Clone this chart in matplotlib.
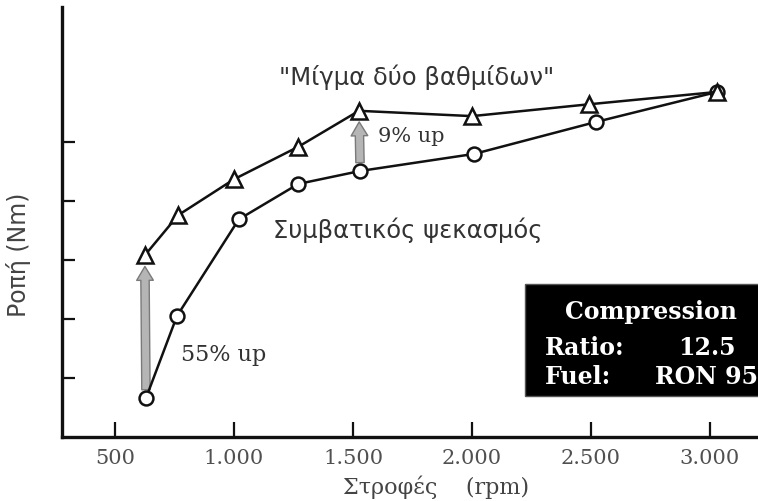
import matplotlib
matplotlib.use("Agg")
import matplotlib.pyplot as plt
from matplotlib.patches import Rectangle

# ---- data ----
rpm_conv = [630, 760, 1020, 1270, 1530, 2010, 2520, 3030]
torque_conv = [0.66, 2.05, 3.69, 4.29, 4.51, 4.80, 5.34, 5.85]
rpm_two = [625, 765, 1000, 1270, 1525, 2000, 2490, 3030]
torque_two = [3.08, 3.76, 4.37, 4.92, 5.53, 5.44, 5.64, 5.85]

x_ticks = [500, 1000, 1500, 2000, 2500, 3000]
x_tick_labels = ["500", "1.000", "1.500", "2.000", "2.500", "3.000"]
y_ticks = [1, 2, 3, 4, 5]

W, H = 758, 502
fig = plt.figure(figsize=(W / 100, H / 100), dpi=100)
fig.patch.set_facecolor("white")

def fx(px):
    return px / W

def fy(py):
    return 1 - py / H

ax = fig.add_axes([fx(62), fy(438), fx(758) - fx(62), fy(8) - fy(438)])
ax.set_xlim(277, 3202)
ax.set_ylim(0, 7.29)

for s in ["top", "right"]:
    ax.spines[s].set_visible(False)
for s in ["left", "bottom"]:
    ax.spines[s].set_linewidth(2.4)
    ax.spines[s].set_color("#111111")

ax.set_xticks(x_ticks)
ax.set_xticklabels(x_tick_labels, family="DejaVu Serif", fontsize=15, color="#505050")
ax.set_yticks(y_ticks)
ax.set_yticklabels([])
ax.tick_params(axis="x", direction="in", length=11, width=1.6, color="#111111", pad=8)
ax.tick_params(axis="y", direction="in", length=9, width=1.6, color="#111111")

# arrows (gray)
arrow_kw = dict(arrowstyle="simple,head_width=1.2,head_length=1.0,tail_width=0.6",
                fc="#b5b5b5", ec="#7a7a7a", lw=1.0)
ax.annotate("", xy=(rpm_two[0], torque_two[0]), xytext=(rpm_conv[0], torque_conv[0]),
            arrowprops=dict(**arrow_kw, shrinkA=6, shrinkB=8), zorder=2)
ax.annotate("", xy=(rpm_two[4], torque_two[4]), xytext=(rpm_conv[4], torque_conv[4]),
            arrowprops=dict(**arrow_kw, shrinkA=6, shrinkB=8), zorder=2)

ax.plot(rpm_conv, torque_conv, color="#111111", lw=1.8, marker="o", ms=10,
        mfc="white", mec="#111111", mew=1.8, zorder=3)
ax.plot(rpm_two, torque_two, color="#111111", lw=1.8, marker="^", ms=12,
        mfc="white", mec="#111111", mew=1.8, zorder=3)

# texts
fig.text(fx(417), fy(77), "\"Μίγμα δύο βαθμίδων\"", ha="center", va="center",
         fontsize=17.5, color="#333333", family="DejaVu Sans")
fig.text(fx(408), fy(230), "Συμβατικός ψεκασμός", ha="center", va="center",
         fontsize=17.5, color="#333333", family="DejaVu Sans")
fig.text(fx(378), fy(137), "9% up", ha="left", va="center",
         fontsize=15, color="#333333", family="DejaVu Serif")
fig.text(fx(181), fy(355), "55% up", ha="left", va="center",
         fontsize=16, color="#333333", family="DejaVu Serif")

fig.text(fx(19), fy(255), "Ροπή (Nm)", rotation=90, ha="center", va="center",
         fontsize=17, color="#444444", family="DejaVu Sans")
fig.text(fx(436), fy(487), "Στροφές    (rpm)", ha="center", va="center",
         fontsize=16, color="#444444", family="DejaVu Serif")

# Compression box
box = Rectangle((fx(525), fy(397)), fx(W) - fx(525) + 0.01, fy(285) - fy(397),
                transform=fig.transFigure, facecolor="black", edgecolor="#555555",
                lw=1.0, zorder=5)
fig.patches.append(box)
tkw = dict(color="white", fontsize=17, family="DejaVu Serif", weight="bold",
           va="center", zorder=6)
fig.text(fx(651), fy(312), "Compression", ha="center", **tkw)
fig.text(fx(545), fy(348), "Ratio:", ha="left", **tkw)
fig.text(fx(678), fy(348), "12.5", ha="left", **tkw)
fig.text(fx(545), fy(377), "Fuel:", ha="left", **tkw)
fig.text(fx(655), fy(377), "RON 95", ha="left", **tkw)

fig.savefig("out.png", dpi=100)
